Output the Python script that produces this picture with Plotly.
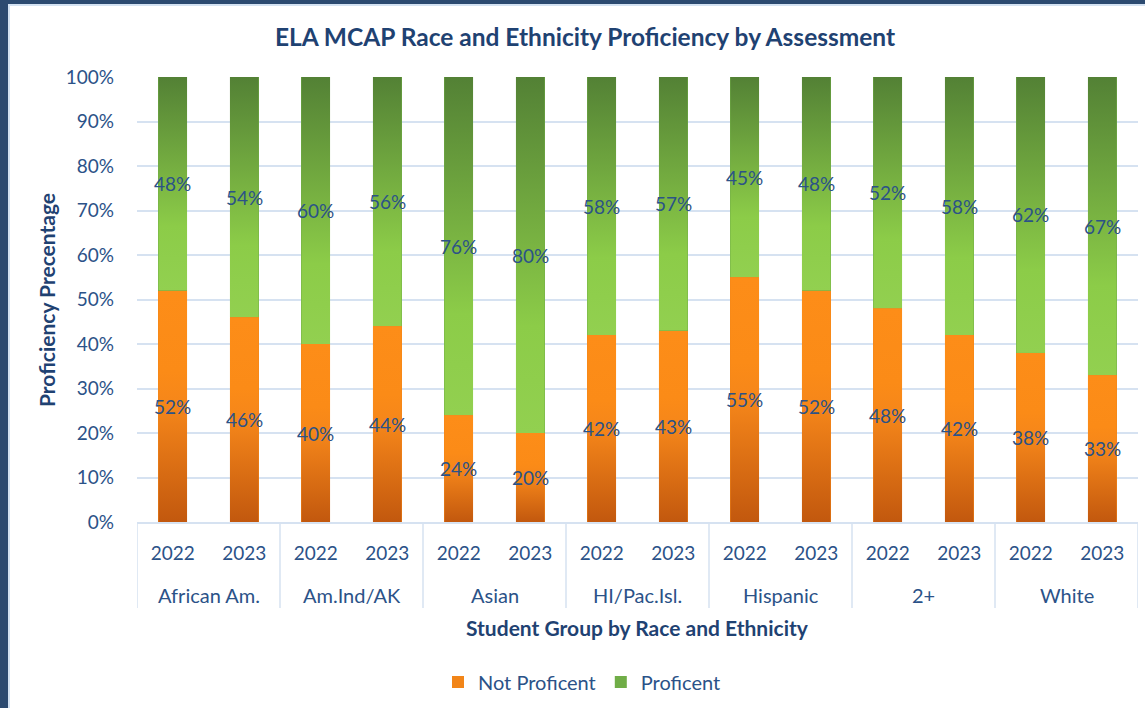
import base64
import plotly.graph_objects as go

groups = ["African Am.", "Am.Ind/AK", "Asian", "HI/Pac.Isl.", "Hispanic", "2+", "White"]
years = ["2022", "2023"]
not_proficient = [52, 46, 40, 44, 24, 20, 42, 43, 55, 52, 48, 42, 38, 33]
proficient = [48, 54, 60, 56, 76, 80, 58, 57, 45, 48, 52, 58, 62, 67]
y_ticks = [0, 10, 20, 30, 40, 50, 60, 70, 80, 90, 100]

n_years = len(years)
pos = list(range(len(groups) * n_years))
year_labels = [y for _ in groups for y in years]

FONT = "Lato"
TXT = "#2B5288"
TITLE = "#1F4272"
ORANGE = "#F28518"
GREEN = "#70AD47"
GRID = "#D6E2F1"
BAR_W = 0.405


def gradient_uri(stops):
    st = "".join(f'<stop offset="{o}" stop-color="{c}"/>' for o, c in stops)
    svg = ('<svg xmlns="http://www.w3.org/2000/svg" width="10" height="100" viewBox="0 0 10 100" '
           'preserveAspectRatio="none"><defs><linearGradient id="g" x1="0" y1="1" x2="0" y2="0">'
           f'{st}</linearGradient></defs><rect width="10" height="100" fill="url(#g)"/></svg>')
    return "data:image/svg+xml;base64," + base64.b64encode(svg.encode()).decode()


ORANGE_GRAD = gradient_uri([(0, "#C2580E"), (0.5, "#F5861A"), (0.65, "#FB8B17"), (1, "#FD8D18")])
GREEN_GRAD = gradient_uri([(0, "#92D050"), (0.3, "#8CCC48"), (1, "#538135")])

fig = go.Figure()
fig.add_trace(go.Bar(name="Not Proficent", x=pos, y=not_proficient, width=BAR_W,
                     marker=dict(color=ORANGE, line=dict(width=0)), hoverinfo="y"))
fig.add_trace(go.Bar(name="Proficent", x=pos, y=proficient, width=BAR_W,
                     marker=dict(color=GREEN, line=dict(width=0)), hoverinfo="y"))

L, R, T, B = 137, 7, 77, 186
W, H = 1145, 708
pw, ph = W - L - R, H - T - B


def px_x(p):
    return (p - L) / pw


def px_y(p):
    return (H - B - p) / ph


shapes = [
    dict(type="rect", xref="paper", yref="paper", x0=px_x(0), x1=px_x(8), y0=px_y(H), y1=px_y(0),
         fillcolor="#2C4A70", line=dict(width=0), layer="below"),
    dict(type="rect", xref="paper", yref="paper", x0=px_x(0), x1=px_x(W), y0=px_y(4), y1=px_y(0),
         fillcolor="#2C4A70", line=dict(width=0), layer="below"),
    dict(type="rect", xref="paper", yref="paper", x0=px_x(8), x1=px_x(10), y0=px_y(H), y1=px_y(4),
         fillcolor="#D4E2F2", line=dict(width=0), layer="below"),
    dict(type="rect", xref="paper", yref="paper", x0=px_x(8), x1=px_x(W), y0=px_y(6), y1=px_y(4),
         fillcolor="#D4E2F2", line=dict(width=0), layer="below"),
]
for i in range(len(groups) + 1):
    xd = i * n_years - 0.5
    shapes.append(dict(type="line", xref="x", yref="paper", x0=xd, x1=xd, y0=0, y1=px_y(608),
                       line=dict(color=GRID, width=1.5)))

# gradient shading laid over each bar segment (positions from the data)
images = []
for xi, n, p in zip(pos, not_proficient, proficient):
    images.append(dict(source=ORANGE_GRAD, xref="x", yref="y", x=xi - BAR_W / 2, y=n,
                       sizex=BAR_W, sizey=n, sizing="stretch", xanchor="left", yanchor="top",
                       layer="above"))
    images.append(dict(source=GREEN_GRAD, xref="x", yref="y", x=xi - BAR_W / 2, y=n + p,
                       sizex=BAR_W, sizey=p, sizing="stretch", xanchor="left", yanchor="top",
                       layer="above"))

annotations = [
    dict(text="<b>Student Group by Race and Ethnicity</b>", xref="paper", yref="paper",
         x=px_x(637), y=px_y(627), xanchor="center", yanchor="middle", showarrow=False,
         font=dict(family=FONT, size=21, color=TITLE)),
    dict(text="<b>Proficiency Precentage</b>", xref="paper", yref="paper", textangle=-90,
         x=px_x(46), y=px_y(300), xanchor="center", yanchor="middle", showarrow=False,
         font=dict(family=FONT, size=21, color=TITLE)),
]
for i, g in enumerate(groups):
    annotations.append(dict(text=g, xref="x", yref="paper", x=i * n_years + (n_years - 1) / 2,
                            y=px_y(595), xanchor="center", yanchor="middle", showarrow=False,
                            font=dict(family=FONT, size=20, color=TXT)))
# data labels centred in each segment
for xi, n, p in zip(pos, not_proficient, proficient):
    annotations.append(dict(text=f"{n}%", xref="x", yref="y", x=xi, y=n / 2, showarrow=False,
                            xanchor="center", yanchor="middle",
                            font=dict(family=FONT, size=19, color=TXT)))
    annotations.append(dict(text=f"{p}%", xref="x", yref="y", x=xi, y=n + p / 2, showarrow=False,
                            xanchor="center", yanchor="middle",
                            font=dict(family=FONT, size=19, color=TXT)))

fig.update_layout(
    width=W, height=H,
    margin=dict(l=L, r=R, t=T, b=B, autoexpand=False),
    paper_bgcolor="white", plot_bgcolor="white",
    barmode="stack",
    font=dict(family=FONT, size=18, color=TXT),
    title=dict(text="<b>ELA MCAP Race and Ethnicity Proficiency by Assessment</b>",
               x=585 / W, xanchor="center", y=1 - 37 / H, yanchor="middle",
               font=dict(family=FONT, size=24.5, color=TITLE)),
    xaxis=dict(range=[-0.5, len(pos) - 0.5], tickvals=pos, ticktext=year_labels,
               showline=True, linecolor=GRID, linewidth=1.5, showgrid=False, zeroline=False,
               ticks="", ticklabelstandoff=13,
               tickfont=dict(family=FONT, size=19, color=TXT)),
    yaxis=dict(range=[0, 100], tickvals=y_ticks, ticktext=[f"{t}%" for t in y_ticks],
               showgrid=True, gridcolor=GRID, gridwidth=1.5, zeroline=False, showline=False,
               ticks="", ticklabelstandoff=22,
               tickfont=dict(family=FONT, size=19, color=TXT)),
    legend=dict(orientation="h", x=px_x(582), xanchor="center", y=px_y(682), yanchor="middle",
                font=dict(family=FONT, size=20, color=TXT), itemwidth=30, traceorder="normal"),
    shapes=shapes,
    images=images,
    annotations=annotations,
)

fig.write_html("out.html", config={"displayModeBar": False},
               post_script="document.body.style.margin='0';")
